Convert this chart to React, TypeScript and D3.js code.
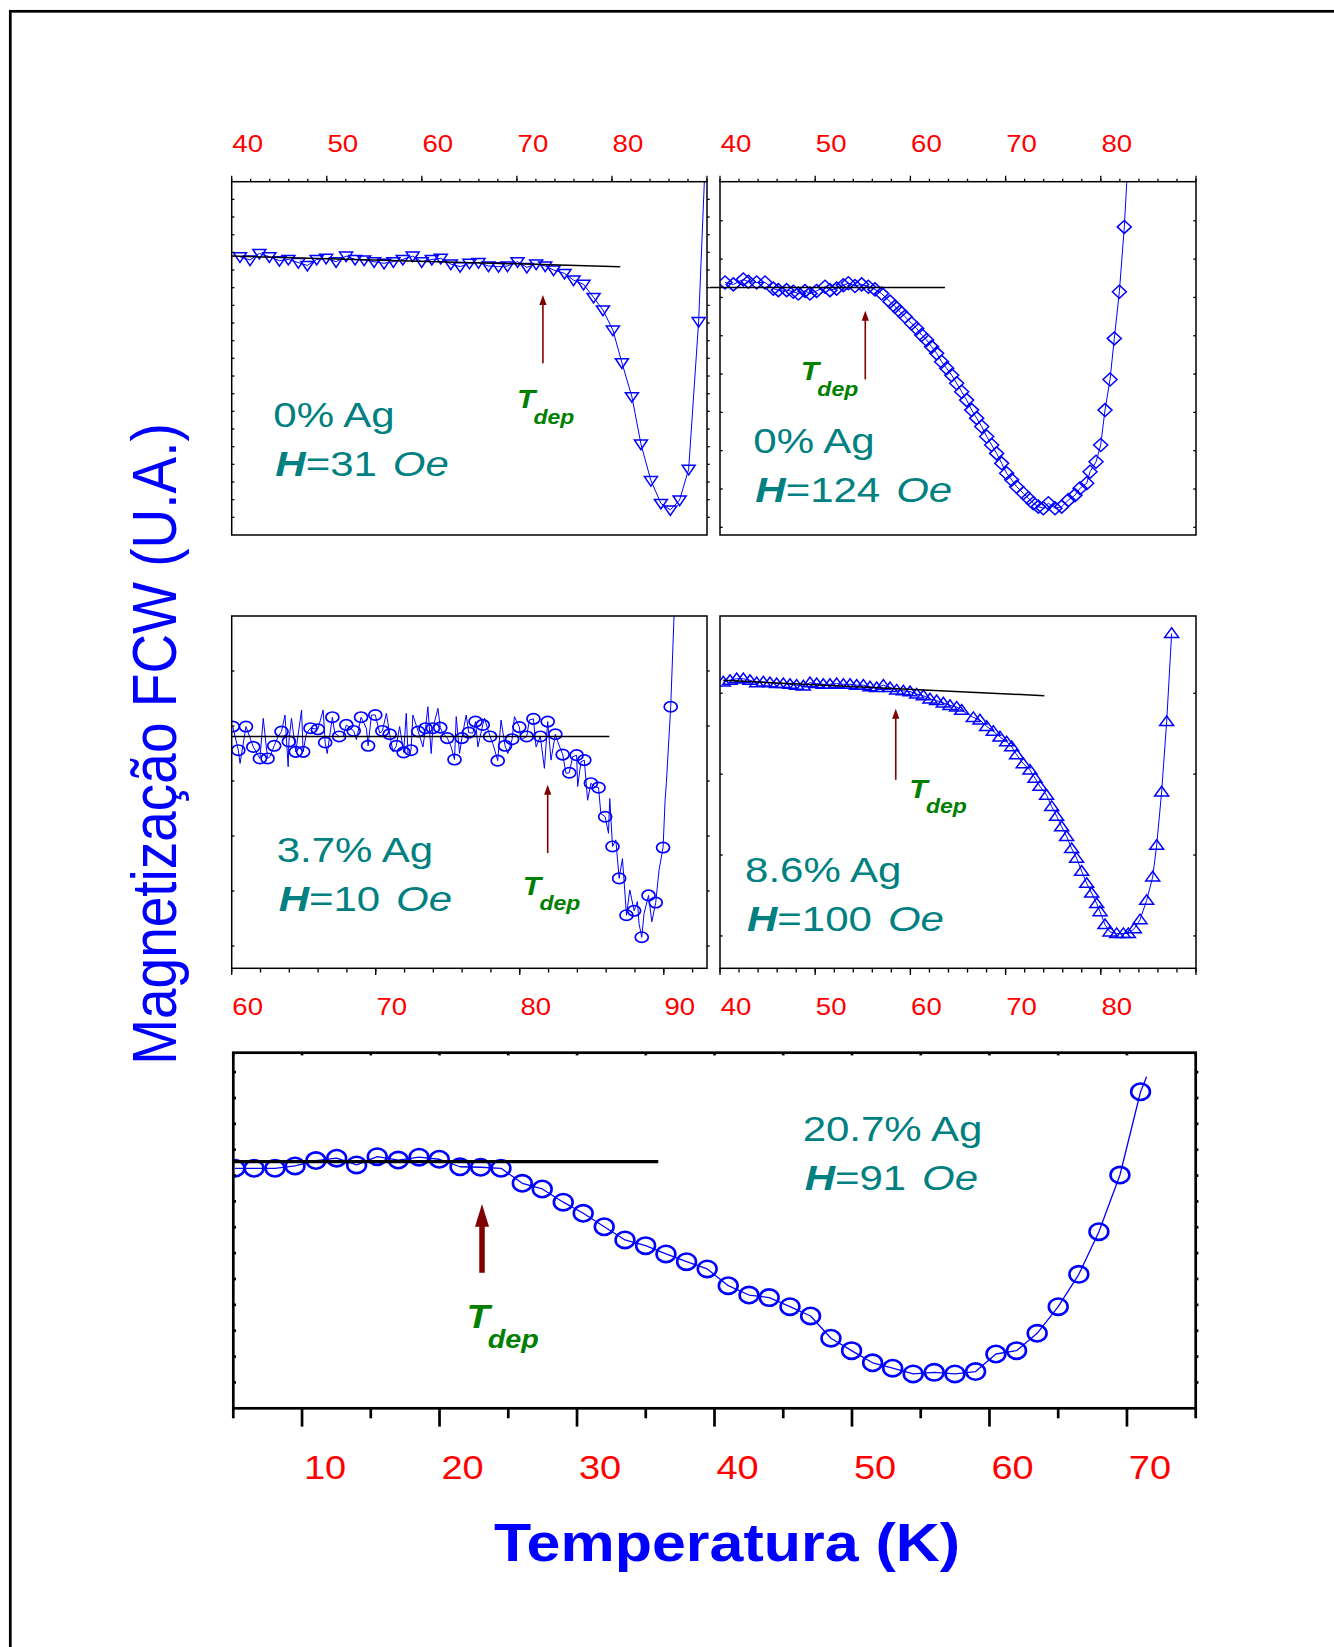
import React from 'react';
import * as d3 from 'd3';

const FONT = '"Liberation Sans", Arial, Helvetica, sans-serif';
const SX = 1.15;
const SX_ANN = 1.2;
const BLUE = '#0000ff';
const RED = '#ff0000';
const TEAL = '#008080';
const GREEN = '#008000';
const DARKRED = '#800000';

// ---------- Panel 1: 0% Ag, H=31 Oe ----------
const p1Temp = [40.87, 41.93, 42.91, 43.96, 45.02, 45.96, 47.01, 47.96, 48.94, 49.93, 50.98, 52.03, 52.98, 53.93, 54.98, 56.03, 57.01, 58.0, 59.04, 59.99, 61.05, 61.99, 63.05, 64.03, 65.01, 65.96, 67.01, 68.07, 69.01, 70.07, 71.05, 72.03, 72.98, 73.86, 75.01, 75.96, 77.01, 78.07, 79.05, 80.1, 81.05, 82.1, 83.05, 84.1, 85.15, 86.14, 87.12, 88.07, 89.12];
const p1Mag = [15.75, 15.57, 15.94, 15.75, 15.53, 15.6, 15.42, 15.26, 15.6, 15.66, 15.47, 15.79, 15.6, 15.57, 15.47, 15.38, 15.47, 15.6, 15.79, 15.47, 15.6, 15.66, 15.34, 15.19, 15.38, 15.42, 15.23, 15.19, 15.23, 15.47, 15.15, 15.34, 15.23, 15.0, 14.81, 14.43, 14.19, 13.45, 12.74, 11.6, 9.75, 7.83, 5.15, 3.08, 1.79, 1.42, 1.98, 3.72, 12.08];
const p1TailTemp = [89.72, 89.95];
const p1TailMag = [20.0, 23.0];
const p1FitTemp = [40, 80.87];
const p1FitMag = [15.79, 15.19];

// ---------- Panel 2: 0% Ag, H=124 Oe ----------
const p2Temp = [40.53, 41.4, 42.45, 42.98, 43.85, 44.73, 45.6, 46.13, 47.0, 47.7, 48.23, 48.93, 49.45, 50.15, 51.03, 51.55, 52.25, 52.96, 53.48, 54.18, 54.88, 55.58, 56.28, 56.98, 57.86, 58.38, 58.91, 59.43, 60.13, 60.66, 61.18, 61.71, 62.23, 62.76, 63.28, 63.81, 64.34, 64.86, 65.39, 65.91, 66.44, 66.96, 67.49, 68.01, 68.54, 69.06, 69.59, 70.11, 70.64, 71.16, 71.86, 72.39, 72.91, 73.44, 73.96, 74.49, 75.19, 75.89, 76.59, 77.29, 77.82, 78.52, 78.87, 79.5, 79.99, 80.44, 80.97, 81.42, 81.95, 82.47];
const p2Mag = [6.39, 6.34, 6.47, 6.41, 6.39, 6.39, 6.23, 6.19, 6.19, 6.15, 6.1, 6.17, 6.1, 6.17, 6.28, 6.19, 6.23, 6.32, 6.37, 6.3, 6.34, 6.28, 6.21, 6.1, 5.89, 5.76, 5.63, 5.5, 5.32, 5.19, 5.02, 4.89, 4.71, 4.54, 4.32, 4.15, 3.97, 3.76, 3.54, 3.32, 3.06, 2.85, 2.63, 2.37, 2.15, 1.93, 1.67, 1.41, 1.24, 1.06, 0.89, 0.76, 0.63, 0.54, 0.5, 0.63, 0.5, 0.54, 0.71, 0.84, 1.02, 1.15, 1.45, 1.71, 2.15, 3.06, 3.86, 4.93, 6.15, 7.84];
const p2TailTemp = [82.72, 82.9];
const p2TailMag = [8.97, 10.0];
const p2FitTemp = [38.95, 63.63];
const p2FitMag = [6.26, 6.26];

// ---------- Panel 3: 3.7% Ag, H=10 Oe ----------
const p3Temp = [60.07, 60.46, 60.99, 61.5, 61.96, 62.49, 62.95, 63.46, 63.97, 64.45, 64.96, 65.47, 65.98, 66.49, 66.99, 67.46, 67.96, 68.47, 68.98, 69.47, 69.97, 70.46, 70.97, 71.43, 71.94, 72.45, 72.95, 73.46, 73.97, 74.48, 74.97, 75.47, 75.98, 76.46, 76.93, 77.43, 77.94, 78.47, 78.98, 79.47, 79.97, 80.48, 80.95, 81.43, 81.94, 82.47, 82.98, 83.44, 83.95, 84.48, 84.94, 85.47, 85.93, 86.44, 86.9, 87.41, 87.94, 88.47, 88.94, 89.44, 89.95, 90.48];
const p3Mag = [3.99, 3.56, 3.99, 3.62, 3.41, 3.41, 3.64, 3.9, 3.72, 3.53, 3.53, 3.96, 3.94, 3.7, 4.16, 3.81, 4.02, 3.91, 4.16, 3.64, 4.2, 3.91, 3.85, 3.64, 3.52, 3.56, 3.9, 3.96, 3.96, 3.97, 3.78, 3.39, 3.78, 3.88, 4.08, 4.02, 3.81, 3.37, 3.64, 3.76, 3.98, 3.81, 4.13, 3.81, 4.08, 3.85, 3.48, 3.15, 3.47, 3.38, 2.96, 2.88, 2.35, 1.81, 1.23, 0.56, 0.64, 0.16, 0.92, 0.79, 1.79, 4.35];
// raw (unmarked) readings between the symbols
const p3RawTemp = [60.58, 62.19, 62.65, 63.23, 63.7, 63.92, 64.15, 64.85, 65.19, 66.35, 66.63, 67.16, 67.73, 68.66, 69.35, 69.7, 70.28, 70.74, 71.2, 71.66, 72.12, 72.24, 72.58, 73.28, 73.62, 73.85, 74.32, 74.66, 75.24, 75.59, 75.82, 76.28, 76.74, 77.09, 77.55, 78.13, 78.7, 79.17, 79.63, 80.09, 80.67, 81.13, 81.71, 82.17, 82.63, 83.21, 83.67, 84.02, 84.25, 84.71, 85.17, 85.63, 86.16, 86.25, 86.67, 87.13, 87.64, 88.17, 88.28, 88.63, 89.17, 89.67, 90.09, 90.18, 90.71, 90.8];
const p3RawMag = [3.32, 4.14, 3.44, 3.81, 4.2, 3.26, 4.14, 4.29, 3.87, 4.29, 3.5, 3.87, 3.81, 3.75, 3.96, 4.2, 3.87, 4.23, 3.53, 3.99, 4.23, 3.5, 4.2, 3.62, 4.35, 3.5, 4.32, 3.87, 3.62, 4.17, 3.5, 4.2, 3.87, 3.62, 4.14, 3.68, 4.11, 3.5, 4.17, 3.75, 4.11, 3.62, 3.23, 3.38, 3.72, 3.14, 3.44, 2.9, 3.35, 2.65, 2.9, 2.41, 2.05, 2.68, 1.93, 1.59, 1.02, 0.81, 0.41, 0.59, 0.44, 1.38, 2.65, 2.97, 5.99, 6.6];
const p3FitTemp = [60, 86.22];
const p3FitMag = [3.81, 3.81];

// ---------- Panel 4: 8.6% Ag, H=100 Oe ----------
const p4Temp = [40.35, 41.05, 41.75, 42.45, 43.15, 43.85, 44.55, 45.25, 45.95, 46.65, 47.35, 48.05, 48.75, 49.45, 50.15, 50.85, 51.55, 52.25, 52.96, 53.66, 54.36, 55.06, 55.76, 56.46, 57.16, 57.86, 58.56, 59.26, 59.96, 60.66, 61.36, 62.06, 62.76, 63.46, 64.16, 64.86, 65.39, 66.61, 67.31, 68.01, 68.71, 69.41, 70.11, 70.64, 71.16, 71.86, 72.56, 73.09, 73.61, 74.31, 74.84, 75.36, 75.89, 76.41, 76.94, 77.46, 77.99, 78.52, 79.04, 79.57, 79.92, 80.44, 80.97, 81.67, 82.37, 82.89, 83.52, 84.12, 84.82, 85.45, 85.87, 86.39, 86.92, 87.44];
const p4Mag = [3.14, 3.16, 3.18, 3.18, 3.16, 3.13, 3.14, 3.13, 3.12, 3.12, 3.11, 3.1, 3.09, 3.13, 3.12, 3.11, 3.11, 3.12, 3.11, 3.11, 3.1, 3.1, 3.08, 3.07, 3.1, 3.07, 3.04, 3.03, 3.02, 2.99, 2.97, 2.93, 2.91, 2.88, 2.85, 2.83, 2.79, 2.7, 2.67, 2.59, 2.53, 2.46, 2.4, 2.34, 2.24, 2.13, 2.05, 1.95, 1.85, 1.74, 1.6, 1.48, 1.35, 1.23, 1.08, 0.96, 0.8, 0.65, 0.53, 0.4, 0.3, 0.14, 0.05, 0.03, 0.03, 0.03, 0.09, 0.2, 0.44, 0.73, 1.12, 1.78, 2.65, 3.74];
const p4FitTemp = [40.35, 74.07];
const p4FitMag = [3.16, 2.97];

// ---------- Panel 5: 20.7% Ag, H=91 Oe ----------
const p5Temp = [5.12, 6.51, 8.03, 9.49, 11.01, 12.52, 13.97, 15.47, 17.0, 18.51, 19.98, 21.49, 22.99, 24.47, 26.02, 27.47, 29.0, 30.45, 31.98, 33.49, 34.99, 36.47, 37.97, 39.47, 41.0, 42.51, 43.98, 45.49, 46.99, 48.47, 49.97, 51.5, 52.96, 54.45, 55.98, 57.49, 58.99, 60.47, 61.97, 63.47, 65.0, 66.5, 67.96, 69.49, 70.99];
const p5Mag = [9.28, 9.28, 9.28, 9.37, 9.58, 9.67, 9.41, 9.73, 9.6, 9.71, 9.63, 9.34, 9.32, 9.28, 8.7, 8.48, 7.97, 7.54, 7.02, 6.51, 6.29, 5.97, 5.67, 5.39, 4.74, 4.38, 4.28, 3.93, 3.57, 2.71, 2.23, 1.76, 1.55, 1.33, 1.39, 1.33, 1.42, 2.1, 2.23, 2.9, 3.93, 5.18, 6.83, 9.02, 12.24];
const p5TailTemp = [71.43];
const p5TailMag = [12.82];
const p5FitTemp = [5, 35.91];
const p5FitMag = [9.54, 9.54];

// tick values
const ticks40to90 = [40, 50, 60, 70, 80, 90];
const labels40to80 = [40, 50, 60, 70, 80];
const minor40to90 = d3.range(40, 91, 2);
const ticks60to90 = [60, 70, 80, 90];
const minor60to93 = d3.range(60, 93, 2);
const ticks10to70 = [10, 20, 30, 40, 50, 60, 70];
const minor5to75 = [5, 15, 25, 35, 45, 55, 65, 75];

const zip = (a: number[], b: number[]) => a.map((v, i) => [v, b[i]] as [number, number]);

type Marker = 'down' | 'up' | 'diamond' | 'circle' | 'bigcircle';

function MarkerShape({ kind, cx, cy }: { kind: Marker; cx: number; cy: number }) {
  const common = { fill: 'none', stroke: BLUE };
  if (kind === 'down')
    return <path d={`M${cx - 6.5},${cy - 4}L${cx + 6.5},${cy - 4}L${cx},${cy + 5.6}Z`} {...common} strokeWidth={1.5} />;
  if (kind === 'up')
    return <path d={`M${cx - 7},${cy + 4}L${cx + 7},${cy + 4}L${cx},${cy - 5.6}Z`} {...common} strokeWidth={1.5} />;
  if (kind === 'diamond')
    return <path d={`M${cx - 7},${cy}L${cx},${cy - 6.5}L${cx + 7},${cy}L${cx},${cy + 6.5}Z`} {...common} strokeWidth={1.5} />;
  if (kind === 'circle') return <ellipse cx={cx} cy={cy} rx={6.5} ry={5.2} {...common} strokeWidth={1.7} />;
  return <ellipse cx={cx} cy={cy} rx={9.4} ry={8.2} {...common} strokeWidth={2.6} />;
}

function SText(props: any) {
  const { x, y, size, children, anchor = 'start', weight = 'normal', fstyle = 'normal', fill, sx = SX } = props;
  return (
    <text
      transform={`translate(${x},${y}) scale(${sx},1)`}
      fontSize={size}
      textAnchor={anchor}
      fontWeight={weight}
      fontStyle={fstyle}
      fill={fill}
      fontFamily={FONT}
    >
      {children}
    </text>
  );
}

type PanelCfg = {
  id: string;
  xDomain: [number, number];
  xRange: [number, number];
  yDomain: [number, number];
  yRange: [number, number];
  frameW: number;
  axisSide: 'top' | 'bottom';
  xMajor: number[];
  xMinor: number[];
  xLabels: number[];
  majorLen: number;
  minorLen: number;
  labelDx: number;
  labelY: number;
  labelSize: number;
  tickW: number;
  topInward?: boolean;
  yTicks: number[];
  yTickLen: number;
  rightOut: boolean;
  points: [number, number][];
  linePts: [number, number][];
  marker: Marker;
  lineW: number;
  fit: [number, number][];
  fitW: number;
  arrowX: number;
  arrowY: [number, number];
  arrowW: number;
  headLen: number;
  headHalf: number;
  label1: string;
  hValue: string;
  labelPos: [number, number];
  labelGap: number;
  annSize: number;
  tPos: [number, number];
  tSize: number;
  depSize: number;
};

function Panel({ c }: { c: PanelCfg }) {
  const x = d3.scaleLinear().domain(c.xDomain).range(c.xRange);
  const y = d3.scaleLinear().domain(c.yDomain).range(c.yRange);
  const [x0, x1] = c.xRange;
  const [yb, yt] = c.yRange;
  const line = d3
    .line<[number, number]>()
    .x((d) => x(d[0]))
    .y((d) => y(d[1]));
  const ay0 = y(c.arrowY[0]);
  const ay1 = y(c.arrowY[1]);
  const ax = x(c.arrowX);
  const axisY = c.axisSide === 'top' ? yt : yb;
  const dir = c.axisSide === 'top' ? -1 : 1;
  const lx = x(c.labelPos[0]);
  const ly = y(c.labelPos[1]);
  const tx = x(c.tPos[0]);
  const ty = y(c.tPos[1]);
  return (
    <g>
      <defs>
        <clipPath id={`clip-${c.id}`}>
          <rect x={x0} y={yt} width={x1 - x0} height={yb - yt} />
        </clipPath>
      </defs>
      {/* data */}
      <g clipPath={`url(#clip-${c.id})`}>
        <path d={line(c.linePts) || ''} fill="none" stroke={BLUE} strokeWidth={c.lineW} strokeLinejoin="round" />
        {c.points.map((p, i) => (
          <MarkerShape key={i} kind={c.marker} cx={x(p[0])} cy={y(p[1])} />
        ))}
      </g>
      {/* frame */}
      <rect x={x0} y={yt} width={x1 - x0} height={yb - yt} fill="none" stroke="#000" strokeWidth={c.frameW} />
      {/* x ticks */}
      {c.xMajor.map((v) => (
        <line key={`M${v}`} x1={x(v)} x2={x(v)} y1={axisY} y2={axisY + dir * c.majorLen} stroke="#000" strokeWidth={c.tickW} />
      ))}
      {c.xMinor.map((v) => (
        <line key={`m${v}`} x1={x(v)} x2={x(v)} y1={axisY} y2={axisY + dir * c.minorLen} stroke="#000" strokeWidth={c.tickW} />
      ))}
      {c.topInward &&
        c.xMajor.concat(c.xMinor).map((v) => (
          <line key={`t${v}`} x1={x(v)} x2={x(v)} y1={yt} y2={yt + 2.7} stroke="#000" strokeWidth={c.tickW} />
        ))}
      {c.xLabels.map((v) => (
        <SText key={`L${v}`} x={x(v) + c.labelDx} y={c.labelY} size={c.labelSize} anchor="middle" fill={RED}>
          {v}
        </SText>
      ))}
      {/* y ticks */}
      {c.yTicks.map((v) => (
        <g key={`y${v}`}>
          <line x1={x0} x2={x0 + c.yTickLen} y1={y(v)} y2={y(v)} stroke="#000" strokeWidth={c.tickW} />
          <line x1={x1} x2={x1 + (c.rightOut ? 1 : -1) * c.yTickLen} y1={y(v)} y2={y(v)} stroke="#000" strokeWidth={c.tickW} />
        </g>
      ))}
      {/* fit line */}
      <path d={line(c.fit) || ''} fill="none" stroke="#000" strokeWidth={c.fitW} />
      {/* arrow */}
      <line x1={ax} x2={ax} y1={ay0} y2={ay1 + c.headLen * 0.8} stroke={DARKRED} strokeWidth={c.arrowW} />
      <path d={`M${ax},${ay1}L${ax + c.headHalf},${ay1 + c.headLen}L${ax - c.headHalf},${ay1 + c.headLen}Z`} fill={DARKRED} />
      {/* T_dep */}
      <SText x={tx} y={ty} size={c.tSize} weight="bold" fstyle="italic" fill={GREEN}>
        T
      </SText>
      <SText x={tx + c.tSize * 0.64} y={ty + c.tSize * 0.6} size={c.depSize} weight="bold" fstyle="italic" fill={GREEN}>
        dep
      </SText>
      {/* sample label */}
      <SText x={lx} y={ly} size={c.annSize} fill={TEAL} sx={SX_ANN}>
        {c.label1}
      </SText>
      <SText x={lx + 2} y={ly + c.labelGap} size={c.annSize} fill={TEAL} sx={SX_ANN}>
        <tspan fontWeight="bold" fontStyle="italic">H</tspan>
        <tspan>{`=${c.hValue}`}</tspan>
        <tspan dx={c.annSize * 0.38} fontStyle="italic">Oe</tspan>
      </SText>
    </g>
  );
}

const smallCommon = {
  frameW: 1.5,
  majorLen: 6,
  minorLen: 3,
  labelDx: 16,
  labelSize: 24,
  tickW: 1.3,
  yTickLen: 2.7,
  lineW: 1,
  fitW: 1.5,
  arrowW: 1.6,
  headLen: 10,
  headHalf: 3.6,
  labelGap: 49,
  annSize: 35,
  tSize: 26,
  depSize: 20,
};

const panels: PanelCfg[] = [
  {
    ...smallCommon,
    id: 'p1',
    xDomain: [40, 90],
    xRange: [231.7, 707],
    yDomain: [0, 20],
    yRange: [535, 181.7],
    axisSide: 'top',
    xMajor: ticks40to90,
    xMinor: minor40to90,
    xLabels: labels40to80,
    labelY: 152.3,
    yTicks: d3.range(1, 20),
    rightOut: true,
    points: zip(p1Temp, p1Mag),
    linePts: zip(p1Temp, p1Mag).concat(zip(p1TailTemp, p1TailMag)),
    marker: 'down',
    fit: zip(p1FitTemp, p1FitMag),
    arrowX: 72.74,
    arrowY: [9.72, 13.59],
    label1: '0% Ag',
    hValue: '31',
    labelPos: [44.38, 6.1],
    tPos: [70.0, 7.17],
  },
  {
    ...smallCommon,
    id: 'p2',
    xDomain: [40, 90],
    xRange: [720, 1196],
    yDomain: [-0.2, 9.02],
    yRange: [535, 181.7],
    axisSide: 'top',
    xMajor: ticks40to90,
    xMinor: minor40to90,
    xLabels: labels40to80,
    labelY: 152.3,
    yTicks: d3.range(0, 9),
    rightOut: false,
    points: zip(p2Temp, p2Mag),
    linePts: zip(p2Temp, p2Mag).concat(zip(p2TailTemp, p2TailMag)),
    marker: 'diamond',
    fit: zip(p2FitTemp, p2FitMag),
    arrowX: 55.26,
    arrowY: [3.86, 5.65],
    label1: '0% Ag',
    hValue: '124',
    labelPos: [43.5, 1.93],
    tPos: [48.48, 3.84],
  },
  {
    ...smallCommon,
    id: 'p3',
    xDomain: [60, 93],
    xRange: [231.7, 707],
    yDomain: [-0.405, 6],
    yRange: [968.3, 616],
    axisSide: 'bottom',
    majorLen: 6.7,
    minorLen: 4.2,
    xMajor: ticks60to90,
    xMinor: minor60to93,
    xLabels: ticks60to90,
    labelY: 1015,
    yTicks: d3.range(0, 6),
    rightOut: true,
    points: zip(p3Temp, p3Mag),
    linePts: d3.sort(zip(p3Temp, p3Mag).concat(zip(p3RawTemp, p3RawMag)), (d) => d[0]),
    marker: 'circle',
    fit: zip(p3FitTemp, p3FitMag),
    arrowX: 81.94,
    arrowY: [1.69, 2.93],
    label1: '3.7% Ag',
    hValue: '10',
    labelPos: [63.12, 1.53],
    tPos: [80.21, 0.93],
  },
  {
    ...smallCommon,
    id: 'p4',
    xDomain: [40, 90],
    xRange: [720, 1196],
    yDomain: [-0.4, 3.955],
    yRange: [968.3, 616],
    axisSide: 'bottom',
    majorLen: 6.7,
    minorLen: 4.2,
    xMajor: ticks40to90,
    xMinor: minor40to90,
    xLabels: labels40to80,
    labelY: 1015,
    yTicks: d3.range(0, 4),
    rightOut: false,
    points: zip(p4Temp, p4Mag),
    linePts: zip(p4Temp, p4Mag),
    marker: 'up',
    fit: zip(p4FitTemp, p4FitMag),
    arrowX: 58.46,
    arrowY: [1.93, 2.81],
    label1: '8.6% Ag',
    hValue: '100',
    labelPos: [42.63, 0.67],
    tPos: [59.88, 1.71],
  },
  {
    id: 'p5',
    xDomain: [5, 75],
    xRange: [233.3, 1195.7],
    yDomain: [0, 13.75],
    yRange: [1408.3, 1052.7],
    frameW: 2.7,
    axisSide: 'bottom',
    xMajor: ticks10to70,
    xMinor: minor5to75,
    xLabels: ticks10to70,
    majorLen: 18.3,
    minorLen: 10,
    labelDx: 23,
    labelY: 1479,
    labelSize: 33,
    tickW: 2.7,
    topInward: true,
    yTicks: d3.range(1, 14),
    yTickLen: 2.7,
    rightOut: true,
    points: zip(p5Temp, p5Mag),
    linePts: zip(p5Temp, p5Mag).concat(zip(p5TailTemp, p5TailMag)),
    marker: 'bigcircle',
    lineW: 1.3,
    fit: zip(p5FitTemp, p5FitMag),
    fitW: 3.3,
    arrowX: 23.09,
    arrowY: [5.24, 7.9],
    arrowW: 5.5,
    headLen: 22.7,
    headHalf: 7,
    label1: '20.7% Ag',
    hValue: '91',
    labelPos: [46.41, 10.34],
    labelGap: 49,
    annSize: 35,
    tPos: [21.97, 3.09],
    tSize: 33,
    depSize: 25,
  },
];

export default function App() {
  return (
    <div style={{ position: 'absolute', left: 0, top: 0, width: 1334, height: 1647, overflow: 'hidden', background: '#fff' }}>
      <svg width={1334} height={1647} style={{ display: 'block' }} fontFamily={FONT}>
        <rect x={0} y={0} width={1334} height={1647} fill="#fff" />
        <rect x={10.3} y={11.3} width={2000} height={2000} fill="none" stroke="#000" strokeWidth={2.7} />
        {panels.map((c) => (
          <Panel key={c.id} c={c} />
        ))}
        <text
          transform={`translate(175.5,744) scale(${SX},1) rotate(-90)`}
          fontSize={55}
          textAnchor="middle"
          fill={BLUE}
          fontFamily={FONT}
        >
          Magnetização FCW (U.A.)
        </text>
        <SText x={727} y={1561} size={53} anchor="middle" weight="bold" fill={BLUE}>
          Temperatura (K)
        </SText>
      </svg>
    </div>
  );
}
